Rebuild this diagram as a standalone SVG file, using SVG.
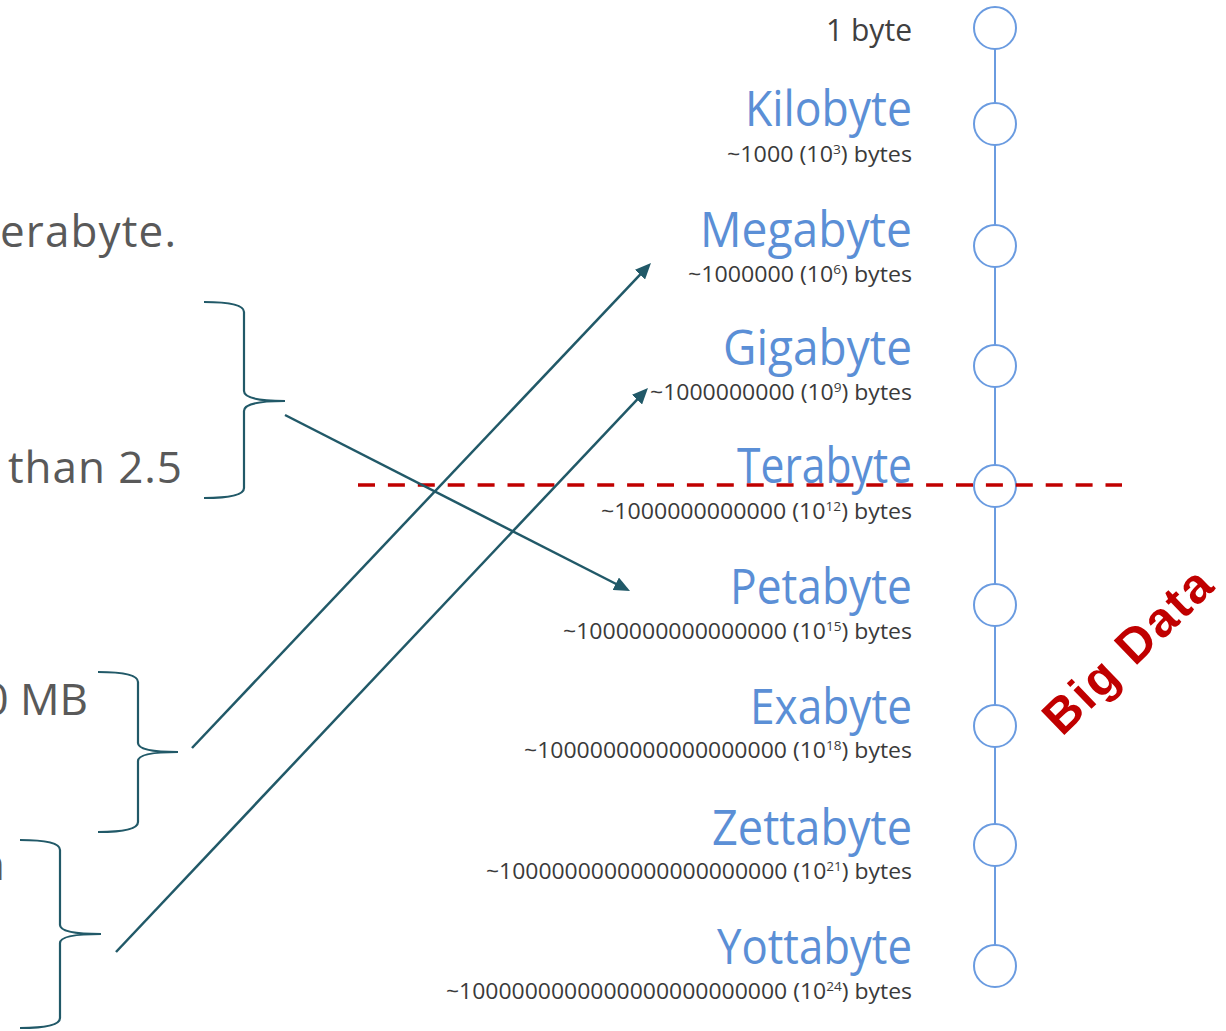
<svg xmlns="http://www.w3.org/2000/svg" width="1226" height="1031" viewBox="0 0 1226 1031">
  <defs>
    <style>
      .left { font-family: "Open Sans", "Liberation Sans", sans-serif; font-size: 44px; fill: #595959; }
      .title { font-family: "Open Sans", "Liberation Sans", sans-serif; font-weight: 400; font-size: 49px; fill: #5b8fd6; text-anchor: end; }
      .sub { font-family: "Open Sans", "Liberation Sans", sans-serif; font-weight: 400; font-size: 22px; fill: #3a3a3a; text-anchor: end; }
      .sup { font-size: 13px; }
      .node { fill: #ffffff; stroke: #6a9be0; stroke-width: 2; }
      .spine { stroke: #6a9be0; stroke-width: 2; fill: none; }
      .brace { fill: none; stroke: #215968; stroke-width: 2.2; }
      .arrow { fill: none; stroke: #215968; stroke-width: 2.5; marker-end: url(#ah); }
      .cut { fill: none; stroke: #c00000; stroke-width: 3.5; stroke-dasharray: 17 12.9; }
      .big { font-family: "Liberation Sans", "Open Sans", sans-serif; font-weight: bold; font-size: 49px; fill: #c00000; text-anchor: middle; }
    </style>
    <marker id="ah" viewBox="0 0 16 14" refX="6" refY="7" markerWidth="16" markerHeight="14" markerUnits="userSpaceOnUse" orient="auto">
      <path d="M0,0 L16,7 L0,14 z" fill="#215968"/>
    </marker>
  </defs>

  <g id="left-texts">
    <text class="left" x="176" y="247" text-anchor="end" textLength="176">erabyte.</text>
    <text class="left" x="182" y="483" text-anchor="end" textLength="174">than 2.5</text>
    <text class="left" x="88" y="715" text-anchor="end">0 MB</text>
    <text class="left" x="5" y="880" text-anchor="end">n</text>
  </g>

  <g id="braces">
    <path class="brace" d="M204,302 Q244,302 244,312 L244,391 Q244,401 285,401 Q244,401 244,411 L244,488 Q244,498 204,498"/>
    <path class="brace" d="M98,672 Q138,672 138,682 L138,743 Q138,752 178,752 Q138,752 138,761 L138,822 Q138,832 98,832"/>
    <path class="brace" d="M20,840 Q60,840 60,850 L60,925 Q60,934 101,934 Q60,934 60,943 L60,1018 Q60,1028 20,1028"/>
  </g>

  <path class="spine" d="M995,49 L995,945"/>

  <g id="n-byte">
    <circle class="node" cx="995" cy="28" r="21"/>
    <text x="912" y="41" text-anchor="end" font-family="Open Sans, Liberation Sans, sans-serif" font-size="31" fill="#404040" textLength="86" lengthAdjust="spacingAndGlyphs">1 byte</text>
  </g>
  <g id="n-kilobyte">
    <circle class="node" cx="995" cy="124" r="21"/>
    <text class="title" x="912" y="126" textLength="167" lengthAdjust="spacingAndGlyphs">Kilobyte</text>
    <text class="sub" x="912" y="162" textLength="185" lengthAdjust="spacingAndGlyphs">~1000 (10<tspan class="sup" dy="-8">3</tspan><tspan dy="8">) bytes</tspan></text>
  </g>
  <g id="n-megabyte">
    <circle class="node" cx="995" cy="246" r="21"/>
    <text class="title" x="912" y="247" textLength="212" lengthAdjust="spacingAndGlyphs">Megabyte</text>
    <text class="sub" x="912" y="282" textLength="224" lengthAdjust="spacingAndGlyphs">~1000000 (10<tspan class="sup" dy="-8">6</tspan><tspan dy="8">) bytes</tspan></text>
  </g>
  <g id="n-gigabyte">
    <circle class="node" cx="995" cy="366" r="21"/>
    <text class="title" x="912" y="365" textLength="189" lengthAdjust="spacingAndGlyphs">Gigabyte</text>
    <text class="sub" x="912" y="400" textLength="262" lengthAdjust="spacingAndGlyphs">~1000000000 (10<tspan class="sup" dy="-8">9</tspan><tspan dy="8">) bytes</tspan></text>
  </g>
  <g id="n-terabyte">
    <circle class="node" cx="995" cy="486" r="21"/>
    <text class="title" x="912" y="483" textLength="175" lengthAdjust="spacingAndGlyphs">Terabyte</text>
    <text class="sub" x="912" y="519" textLength="311" lengthAdjust="spacingAndGlyphs">~1000000000000 (10<tspan class="sup" dy="-8">12</tspan><tspan dy="8">) bytes</tspan></text>
  </g>
  <g id="n-petabyte">
    <circle class="node" cx="995" cy="605" r="21"/>
    <text class="title" x="912" y="604" textLength="182" lengthAdjust="spacingAndGlyphs">Petabyte</text>
    <text class="sub" x="912" y="639" textLength="349" lengthAdjust="spacingAndGlyphs">~1000000000000000 (10<tspan class="sup" dy="-8">15</tspan><tspan dy="8">) bytes</tspan></text>
  </g>
  <g id="n-exabyte">
    <circle class="node" cx="995" cy="726" r="21"/>
    <text class="title" x="912" y="724" textLength="162" lengthAdjust="spacingAndGlyphs">Exabyte</text>
    <text class="sub" x="912" y="758" textLength="388" lengthAdjust="spacingAndGlyphs">~1000000000000000000 (10<tspan class="sup" dy="-8">18</tspan><tspan dy="8">) bytes</tspan></text>
  </g>
  <g id="n-zettabyte">
    <circle class="node" cx="995" cy="845" r="21"/>
    <text class="title" x="912" y="845" textLength="200" lengthAdjust="spacingAndGlyphs">Zettabyte</text>
    <text class="sub" x="912" y="879" textLength="426" lengthAdjust="spacingAndGlyphs">~1000000000000000000000 (10<tspan class="sup" dy="-8">21</tspan><tspan dy="8">) bytes</tspan></text>
  </g>
  <g id="n-yottabyte">
    <circle class="node" cx="995" cy="966" r="21"/>
    <text class="title" x="912" y="964" textLength="195" lengthAdjust="spacingAndGlyphs">Yottabyte</text>
    <text class="sub" x="912" y="999" textLength="466" lengthAdjust="spacingAndGlyphs">~1000000000000000000000000 (10<tspan class="sup" dy="-8">24</tspan><tspan dy="8">) bytes</tspan></text>
  </g>

  <line id="big-data-threshold" class="cut" x1="358" y1="485" x2="1122" y2="485"/>

  <g id="connectors">
    <line class="arrow" x1="285" y1="415" x2="621.1" y2="586.5"/>
    <line class="arrow" x1="192" y1="748" x2="644.1" y2="270.3"/>
    <line class="arrow" x1="116" y1="952" x2="641.1" y2="395.3"/>
  </g>

  <g id="big-data-label">
    <text class="big" transform="translate(1139,663) rotate(-44)" x="0" y="0" textLength="214">Big Data</text>
  </g>
</svg>
